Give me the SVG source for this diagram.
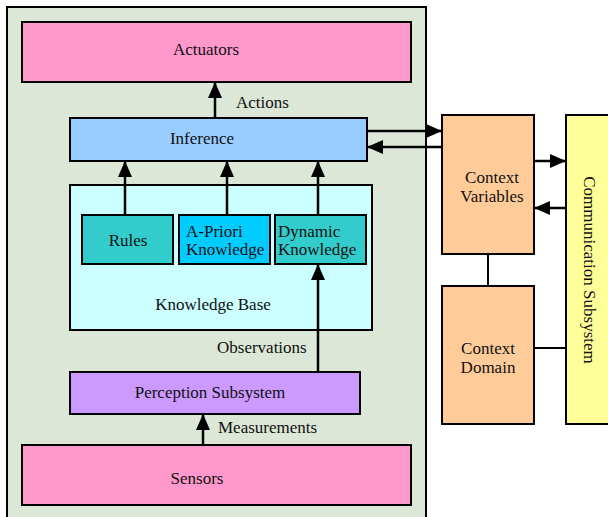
<svg xmlns="http://www.w3.org/2000/svg" width="608" height="517" viewBox="0 0 608 517" font-family="'Liberation Serif', 'DejaVu Serif', 'Times New Roman', serif">
<defs>
<marker id="ah" markerUnits="userSpaceOnUse" markerWidth="16" markerHeight="14" viewBox="0 0 16 14" refX="16" refY="7" orient="auto">
<path d="M0,0 L16,7 L0,14 Z" fill="#000"/>
</marker>
</defs>
<style>
.b{stroke:#000;stroke-width:2}
text{font-family:'Liberation Serif','DejaVu Serif','Times New Roman',serif;font-size:17px;fill:#111}
.c{text-anchor:middle}
.l{stroke:#000;stroke-width:2.5;fill:none}
</style>
<rect x="7" y="7" width="419" height="520" fill="#DCE7D7" stroke="#000" stroke-width="2"/>
<g id="actuators"><rect class="b" x="22" y="22" width="389" height="60" fill="#FF99CC"/><text class="c" x="206" y="55">Actuators</text></g>
<g id="inference"><rect class="b" x="70" y="118" width="297" height="43" fill="#99CCFF"/><text class="c" x="202" y="144">Inference</text></g>
<g id="knowledge-base"><rect class="b" x="70" y="185" width="302" height="145" fill="#CCFFFF"/><text class="c" x="213" y="310">Knowledge Base</text></g>
<g id="rules"><rect class="b" x="82" y="215" width="91" height="49" fill="#33CCCC"/><text class="c" x="128" y="246">Rules</text></g>
<g id="apriori"><rect class="b" x="179" y="215" width="91" height="49" fill="#00CCFF"/><text x="186" y="237">A-Priori</text><text x="186" y="255">Knowledge</text></g>
<g id="dynamic"><rect class="b" x="275" y="215" width="91" height="49" fill="#33CCCC"/><text x="278" y="237">Dynamic</text><text x="278" y="255">Knowledge</text></g>
<g id="perception"><rect class="b" x="70" y="372" width="290" height="42" fill="#CC99FF"/><text class="c" x="210" y="398">Perception Subsystem</text></g>
<g id="sensors"><rect class="b" x="22" y="445" width="389" height="60" fill="#FF99CC"/><text class="c" x="197" y="484">Sensors</text></g>
<g id="context-variables"><rect class="b" x="442" y="115" width="92" height="139" fill="#FFCC99"/><text class="c" x="492" y="183">Context</text><text class="c" x="492" y="202">Variables</text></g>
<g id="context-domain"><rect class="b" x="442" y="286" width="92" height="138" fill="#FFCC99"/><text class="c" x="488" y="354">Context</text><text class="c" x="488" y="373">Domain</text></g>
<g id="communication"><rect class="b" x="566" y="115" width="50" height="309" fill="#FFFF99"/><text class="c" transform="translate(584,270) rotate(90)">Communication Subsystem</text></g>
<g id="connectors">
<line class="l" x1="215" y1="118" x2="215" y2="82" marker-end="url(#ah)"/>
<line class="l" x1="125" y1="215" x2="125" y2="161" marker-end="url(#ah)"/>
<line class="l" x1="227" y1="215" x2="227" y2="161" marker-end="url(#ah)"/>
<line class="l" x1="318" y1="215" x2="318" y2="161" marker-end="url(#ah)"/>
<line class="l" x1="318" y1="372" x2="318" y2="264" marker-end="url(#ah)"/>
<line class="l" x1="203" y1="445" x2="203" y2="414" marker-end="url(#ah)"/>
<line class="l" x1="367" y1="131" x2="442" y2="131" marker-end="url(#ah)"/>
<line class="l" x1="442" y1="147" x2="367" y2="147" marker-end="url(#ah)"/>
<line class="l" x1="534" y1="161" x2="566" y2="161" marker-end="url(#ah)"/>
<line class="l" x1="566" y1="208" x2="534" y2="208" marker-end="url(#ah)"/>
<line stroke="#000" stroke-width="2" x1="488" y1="254" x2="488" y2="286"/>
<line stroke="#000" stroke-width="2" x1="534" y1="348" x2="566" y2="348"/>
<text x="236" y="108">Actions</text>
<text x="217" y="353">Observations</text>
<text x="218" y="433">Measurements</text>
</g>
</svg>
